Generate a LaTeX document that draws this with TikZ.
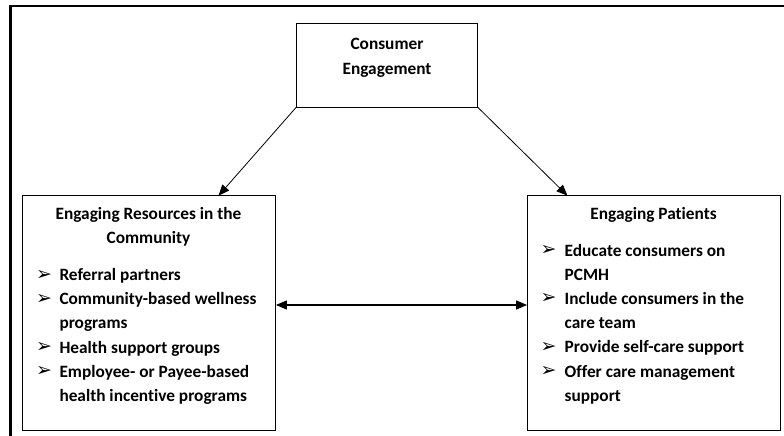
\documentclass[tikz,border=0pt]{standalone}
\usepackage{fontspec}
\setmainfont[Ligatures=NoCommon]{Carlito}
\newfontfamily\symfont{DejaVu Sans}
\usetikzlibrary{arrows.meta}
\newcommand{\blt}{{\symfont\fontsize{19}{20}\selectfont ➢}}
\tikzset{
  box/.style={draw, line width=0.8pt, rectangle, inner sep=0pt},
  txt/.style={inner sep=0pt, anchor=base west, font=\fontsize{17.3}{20}\selectfont\bfseries},
  ttl/.style={inner sep=0pt, anchor=base, font=\fontsize{17.3}{20}\selectfont\bfseries},
  bul/.style={inner sep=0pt, anchor=base west},
  con/.style={line width=0.8pt, -{Triangle[length=11pt,width=9pt]}},
  dcon/.style={line width=1.2pt, {Triangle[length=11pt,width=9pt]}-{Triangle[length=11pt,width=9pt]}}
}
\begin{document}
\begin{tikzpicture}[x=1pt,y=-1pt]
\useasboundingbox (0,0) rectangle (784,436);
\clip (0,0) rectangle (784,436);
\fill[white] (0,0) rectangle (784,436);
% outer frame
\draw[line width=2.8pt] (10.5,446) -- (10.5,6) -- (795,6);
% boxes
\node[box, minimum width=181pt, minimum height=84pt] (top) at (387,65) {};
\node[box, minimum width=253pt, minimum height=234.5pt] (L) at (149,313) {};
\node[box, minimum width=253pt, minimum height=234.5pt] (R) at (654,313) {};
% top text
\node[ttl] (t1) at (387,50) {Consumer};
\node[ttl] (t2) at (387,74.5) {Engagement};
% left text
\node[ttl] (l1) at (148.5,219.5) {Engaging Resources in the};
\node[ttl] (l2) at (148.5,243.7) {Community};
\node[bul] (lb1) at (36,280) {\blt};
\node[txt] (lt1) at (59.3,280.5) {Referral partners};
\node[bul] (lb2) at (36,304.2) {\blt};
\node[txt] (lt2) at (59.3,304.7) {Community-based wellness};
\node[txt] (lt3) at (59.3,328.9) {programs};
\node[bul] (lb3) at (36,352.6) {\blt};
\node[txt] (lt4) at (59.3,353.1) {Health support groups};
\node[bul] (lb4) at (36,376.8) {\blt};
\node[txt] (lt5) at (59.3,377.3) {Employee- or Payee-based};
\node[txt] (lt6) at (59.3,401.5) {health incentive programs};
% right text
\node[ttl] (r1) at (653.5,219.5) {Engaging Patients};
\node[bul] (rb1) at (540.5,255.5) {\blt};
\node[txt] (rt1) at (564.5,256) {Educate consumers on};
\node[txt] (rt2) at (564.5,280.2) {PCMH};
\node[bul] (rb2) at (540.5,303.9) {\blt};
\node[txt] (rt3) at (564.5,304.4) {Include consumers in the};
\node[txt] (rt4) at (564.5,328.6) {care team};
\node[bul] (rb3) at (540.5,352.3) {\blt};
\node[txt] (rt5) at (564.5,352.8) {Provide self-care support};
\node[bul] (rb4) at (540.5,376.5) {\blt};
\node[txt] (rt6) at (564.5,377) {Offer care management};
\node[txt] (rt7) at (564.5,401.2) {support};
% connectors
\coordinate (la) at (218.5,195.7);
\coordinate (ra) at (567.5,195.7);
\coordinate (mid) at (400,305);
\draw[con] (top.south west) -- (la);
\draw[con] (top.south east) -- (ra);
\draw[dcon] (L.east |- mid) -- (R.west |- mid);
\end{tikzpicture}
\end{document}
